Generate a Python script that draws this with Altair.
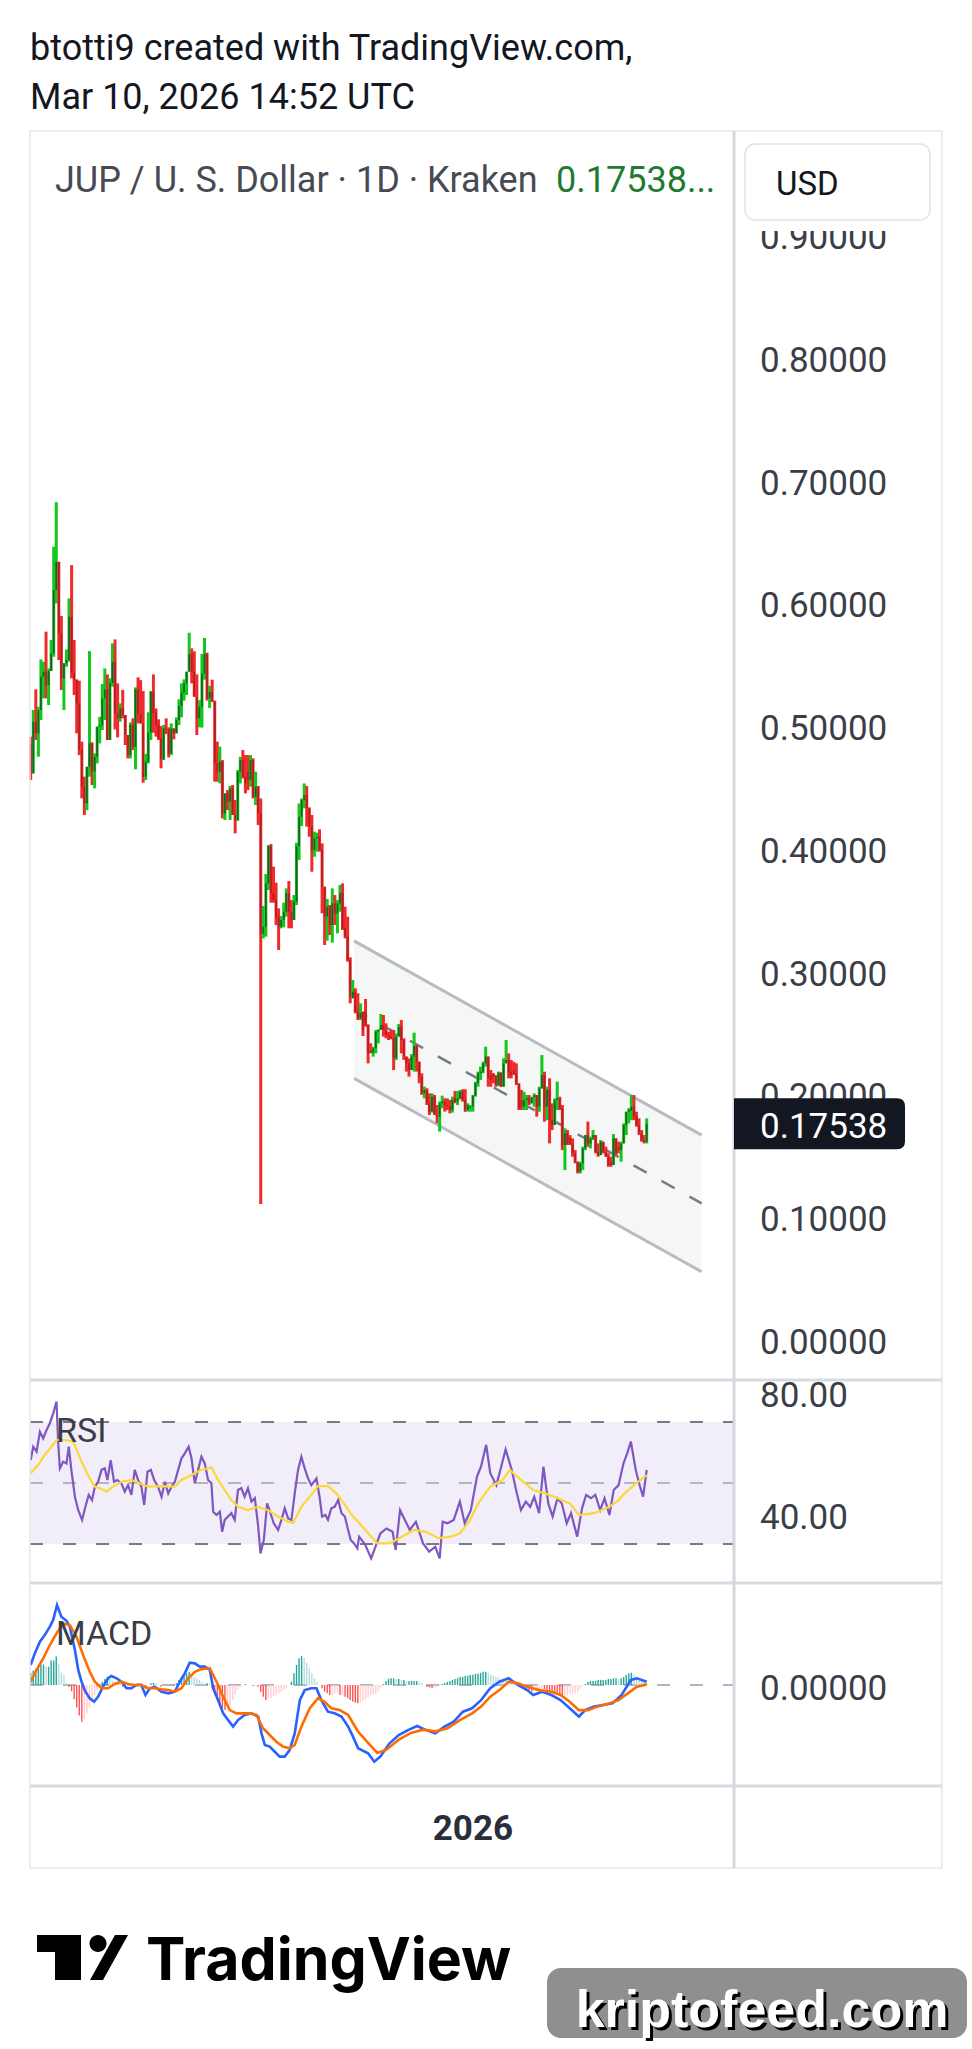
import altair as alt
import pandas as pd

W, H = 972, 2049

# ---------------- data ----------------
opens = [.4851,.4607,.5028,.4933,.5123,.5394,.5435,.5326,.5440,.5584,
         .6100,.6330,.5747,.5381,.5503,.5530,.5883,.5427,.5367,.5177,
         .4797,.4498,.4363,.4661,.4851,.4621,.4743,.4987,.5000,.5218,
         .5291,.4879,.5345,.5516,.5096,.5055,.5136,.5082,.4919,.4756,
         .5001,.4824,.5291,.5090,.5014,.4580,.4702,.4938,.5272,.5100,
         .5001,.4892,.4721,.4973,.4965,.4770,.4973,.4933,.5041,.5155,
         .5264,.5340,.5435,.5579,.5435,.5231,.5055,.5150,.5420,.5580,
         .5220,.5270,.5190,.4688,.4620,.4702,.4281,.4444,.4376,.4485,
         .4268,.4227,.4620,.4715,.4580,.4620,.4553,.4715,.4417,.4498,
         .4281,.3300,.3358,.3711,.4015,.3630,.3575,.3440,.3358,.3413,
         .3480,.3630,.3480,.3413,.3562,.4015,.4254,.4390,.4430,.4322,
         .4173,.3983,.4078,.4091,.3983,.3684,.3440,.3521,.3372,.3548,
         .3467,.3548,.3630,.3345,.3277,.3087,.2775,.2829,.2666,.2612,
         .2666,.2666,.2558,.2345,.2332,.2368,.2503,.2517,.2558,.2517,
         .2476,.2462,.2449,.2286,.2463,.2544,.2435,.2300,.2245,.2191,
         .2300,.2387,.2259,.2137,.2001,.2028,.1920,.1852,.1974,.1825,
         .1811,.1920,.1933,.1906,.1898,.1865,.1960,.1933,.1960,.2015,
         .1947,.1865,.1880,.1893,.1982,.2083,.2164,.2178,.2245,.2300,
         .2150,.2164,.2137,.2069,.2170,.2055,.2245,.2272,.2177,.2190,
         .2163,.2082,.1946,.1892,.1946,.1960,.1919,.1968,.1987,.1892,
         .2041,.2150,.1892,.2028,.1783,.1743,.1946,.1960,.1878,.1580,
         .1675,.1640,.1593,.1512,.1444,.1363,.1431,.1553,.1661,.1593,
         .1634,.1661,.1526,.1498,.1607,.1526,.1485,.1440,.1417,.1634,
         .1560,.1539,.1593,.1743,.1851,.1860,.1892,.1811,.1743,.1675,
         .1621,.1607]
closes = [.4607,.5028,.4933,.5123,.5394,.5435,.5326,.5440,.5584,.6100,
          .6330,.5747,.5381,.5503,.5530,.5883,.5427,.5367,.5177,.4797,
          .4498,.4363,.4661,.4851,.4621,.4743,.4987,.5000,.5218,.5291,
          .4879,.5345,.5516,.5096,.5055,.5136,.5082,.4919,.4756,.5001,
          .4824,.5291,.5090,.5014,.4580,.4702,.4938,.5272,.5100,.5001,
          .4892,.4721,.4973,.4965,.4770,.4973,.4933,.5041,.5155,.5264,
          .5340,.5435,.5579,.5435,.5231,.5055,.5150,.5420,.5580,.5220,
          .5270,.5190,.4690,.4620,.4702,.4281,.4444,.4376,.4485,.4268,
          .4227,.4620,.4715,.4580,.4525,.4553,.4715,.4417,.4498,.4281,
          .3300,.3358,.3711,.4015,.3630,.3575,.3440,.3358,.3413,.3480,
          .3630,.3480,.3413,.3562,.4015,.4254,.4390,.4430,.4322,.4173,
          .3983,.4078,.4091,.3983,.3684,.3440,.3521,.3372,.3548,.3467,
          .3548,.3630,.3345,.3277,.3087,.2788,.2829,.2666,.2612,.2653,
          .2517,.2558,.2327,.2332,.2368,.2503,.2517,.2558,.2517,.2476,
          .2462,.2449,.2286,.2463,.2544,.2435,.2300,.2245,.2191,.2300,
          .2387,.2259,.2137,.2001,.2028,.1920,.1852,.1974,.1825,.1811,
          .1920,.1933,.1906,.1898,.1865,.1947,.1933,.1960,.2015,.1947,
          .1865,.1906,.1893,.1982,.2083,.2164,.2178,.2245,.2300,.2123,
          .2110,.2137,.2069,.2170,.2055,.2245,.2272,.2177,.2150,.2163,
          .2082,.1878,.1892,.1946,.1960,.1919,.1968,.1987,.1892,.2041,
          .2150,.1892,.2028,.1783,.1743,.1946,.1960,.1878,.1580,.1675,
          .1593,.1593,.1512,.1444,.1363,.1431,.1553,.1661,.1593,.1634,
          .1661,.1526,.1498,.1607,.1526,.1485,.1417,.1417,.1634,.1512,
          .1539,.1593,.1743,.1851,.1870,.1892,.1811,.1743,.1675,.1621,
          .1607,.17538]
highs = [.4906,.5123,.5291,.5150,.5535,.5516,.5761,.5462,.5693,.6453,
         .6816,.6276,.5888,.5503,.5617,.6032,.6303,.5693,.5373,.5362,
         .4865,.4580,.4661,.5603,.4860,.4770,.4987,.5068,.5334,.5462,
         .5413,.5381,.5666,.5698,.5340,.5177,.5286,.5082,.4919,.5022,
         .5055,.5307,.5389,.5367,.5278,.4765,.5104,.5278,.5413,.5136,
         .5047,.4992,.5001,.5055,.4982,.5014,.4965,.5063,.5210,.5340,
         .5373,.5435,.5752,.5625,.5601,.5413,.5204,.5580,.5710,.5590,
         .5320,.5370,.5200,.4865,.4824,.4715,.4444,.4471,.4504,.4512,
         .4390,.4634,.4742,.4797,.4756,.4756,.4756,.4729,.4620,.4504,
         .4403,.3527,.3787,.4023,.4031,.3847,.3717,.3508,.3445,.3554,
         .3670,.3730,.3575,.3616,.4042,.4362,.4403,.4525,.4504,.4330,
         .4268,.4132,.4124,.4151,.4037,.3684,.3584,.3535,.3670,.3616,
         .3575,.3698,.3711,.3521,.3440,.3109,.2924,.2856,.2816,.2734,
         .2666,.2769,.2563,.2408,.2381,.2517,.2522,.2647,.2639,.2571,
         .2503,.2517,.2517,.2490,.2566,.2598,.2449,.2300,.2286,.2321,
         .2495,.2395,.2259,.2164,.2055,.2042,.2001,.2001,.1988,.1906,
         .1935,.1982,.1960,.1960,.1947,.1974,.2020,.2020,.2028,.2034,
         .2034,.1920,.1906,.1988,.2096,.2178,.2218,.2259,.2381,.2300,
         .2191,.2164,.2150,.2178,.2170,.2286,.2435,.2326,.2272,.2258,
         .2245,.2082,.2028,.2014,.1987,.1987,.1973,.2001,.1987,.2055,
         .2313,.2177,.2055,.2123,.1919,.1960,.2096,.1973,.1906,.1716,
         .1702,.1661,.1634,.1539,.1444,.1444,.1566,.1661,.1770,.1648,
         .1702,.1661,.1593,.1621,.1607,.1566,.1512,.1485,.1669,.1634,
         .1607,.1607,.1756,.1851,.1880,.1987,.1987,.1851,.1797,.1702,
         .1661,.1797]
lows = [.4553,.4716,.4879,.4743,.5041,.5218,.5218,.5163,.5476,.5557,
        .5991,.5530,.5286,.5123,.5476,.5516,.5381,.5245,.4933,.4756,
        .4404,.4268,.4308,.4580,.4512,.4485,.4688,.4851,.4960,.5041,
        .4879,.4879,.5313,.4965,.4900,.5028,.5055,.4838,.4729,.4729,
        .4797,.4640,.5014,.5014,.4531,.4553,.4688,.4879,.4938,.4906,
        .4879,.4648,.4716,.4927,.4737,.4756,.4884,.4933,.5001,.5063,
        .5199,.5245,.5435,.5340,.5231,.4919,.4982,.4980,.5370,.5200,
        .5140,.5190,.4540,.4539,.4525,.4240,.4227,.4308,.4227,.4268,
        .4118,.4220,.4525,.4566,.4444,.4471,.4498,.4403,.4349,.4186,
        .1100,.3263,.3277,.3657,.3554,.3554,.3372,.3168,.3345,.3353,
        .3440,.3345,.3345,.3413,.3535,.3901,.4178,.4322,.4173,.4091,
        .3806,.3928,.3969,.3969,.3467,.3209,.3244,.3290,.3228,.3372,
        .3304,.3480,.3331,.3263,.3073,.2734,.2775,.2653,.2598,.2598,
        .2468,.2544,.2245,.2327,.2300,.2327,.2408,.2517,.2463,.2449,
        .2435,.2441,.2191,.2273,.2463,.2327,.2273,.2178,.2137,.2191,
        .2178,.2178,.2083,.1988,.1960,.1906,.1825,.1844,.1825,.1757,
        .1689,.1879,.1852,.1865,.1838,.1844,.1920,.1906,.1950,.1933,
        .1850,.1852,.1852,.1852,.1974,.2055,.2110,.2164,.2218,.2055,
        .2055,.2083,.2055,.2060,.2055,.2055,.2245,.2123,.2123,.2150,
        .2069,.1865,.1865,.1865,.1865,.1906,.1919,.1892,.1811,.1851,
        .2041,.1770,.1783,.1593,.1702,.1743,.1865,.1865,.1539,.1376,
        .1580,.1580,.1485,.1431,.1349,.1349,.1376,.1539,.1566,.1553,
        .1621,.1512,.1485,.1498,.1512,.1485,.1403,.1403,.1417,.1498,
        .1512,.1444,.1593,.1661,.1756,.1783,.1783,.1729,.1661,.1607,
        .1593,.1593]
first_date = "2025-07-12"   # one daily candle per day up to 2026-03-10

# RSI(14) line and its moving average: (day index, value)
rsi_day = [0.0,1.0,2.3,3.6,4.9,6.2,7.5,8.8,10.1,10.7,11.4,12.7,14.0,14.9,15.9,17.3,18.6,20.1,21.4,22.7,
           24.0,25.1,26.4,27.7,29.0,30.0,31.3,32.6,33.9,35.5,36.8,38.1,39.4,40.7,42.0,43.3,44.4,45.7,47.0,48.3,
           49.8,51.2,52.5,53.8,55.1,56.4,57.7,59.0,60.3,61.8,62.9,64.2,65.5,66.8,68.1,69.4,70.7,71.4,72.7,74.0,
           74.9,75.9,77.2,78.5,79.8,81.1,82.4,83.7,85.0,86.4,87.7,89.0,89.9,91.2,92.5,93.8,95.1,96.8,98.1,99.4,
           100.7,102.0,103.3,104.6,105.9,107.2,108.5,109.8,111.8,113.1,114.0,115.3,116.3,117.6,118.9,120.3,121.6,122.9,124.2,125.2,
           126.5,127.8,128.5,130.9,133.2,134.4,136.8,139.2,141.6,142.8,144.5,146.4,148.3,150.7,153.5,155.9,158.3,160.0,161.2,163.1,
           165.5,167.9,169.8,172.2,174.6,176.2,178.2,179.8,182.2,184.1,185.8,188.2,189.9,191.8,193.7,195.4,197.0,198.9,200.6,202.5,
           204.2,206.1,207.8,209.7,211.4,213.8,215.7,217.3,219.2,220.9,222.8,224.5,226.4,228.1,230.0,231.9,233.6,234.8,236.7,238.4,
           239.6,241.0]
rsi_val = [57.5,61.9,60.3,66.8,64.6,67.4,69.6,72.8,76.7,64.1,54.8,57.0,56.4,61.9,54.3,45.5,41.1,37.9,42.2,46.1,
           44.4,48.8,50.4,54.3,54.8,51.0,57.5,50.4,51.0,49.9,47.2,49.3,46.1,54.3,51.0,48.8,42.8,53.7,54.3,51.0,
           48.8,45.5,50.4,46.6,48.8,50.4,54.3,58.1,59.7,61.9,58.1,49.9,54.3,58.6,56.4,51.0,49.9,40.6,39.5,40.6,
           34.0,37.9,39.0,40.1,37.9,47.7,48.3,45.5,48.3,43.9,45.0,35.7,26.9,31.3,43.3,40.1,36.8,34.6,37.9,41.7,
           38.4,37.9,46.6,54.3,58.6,54.8,51.5,49.3,51.5,45.0,39.0,39.5,37.9,41.7,42.2,44.4,40.1,39.0,34.6,31.3,
           30.2,28.6,32.4,29.7,25.3,28.0,33.5,35.1,34.0,28.0,41.1,37.9,34.6,37.3,30.2,27.5,29.1,25.3,37.3,36.8,
           37.9,43.9,36.8,41.1,52.1,55.4,62.5,53.2,49.3,55.4,61.0,54.3,47.7,41.1,43.9,42.2,45.5,40.1,55.4,43.3,
           39.0,45.0,43.3,36.8,40.1,32.4,41.7,46.1,45.0,46.1,41.1,45.0,39.5,47.7,49.3,56.4,60.3,63.6,54.3,48.8,
           45.5,54.3]
rsima_day = [0,2.9,5.5,8.1,10.1,13.3,16.6,19.9,23.1,25.1,27.0,29.6,32.2,35.5,39.4,43.3,45.9,51.2,56.4,59.0,
             62.9,66.8,70.7,73.3,75.9,78.5,81.1,85.0,89.0,92.9,96.8,100.7,102.7,105.9,109.8,112.4,116.3,119.6,122.9,126.1,
             128.1,130.9,135.6,140.4,145.2,150.0,154.7,159.5,164.3,167.9,171.5,175.1,179.8,184.6,187.5,191.8,196.6,201.3,206.1,210.9,
             214.5,220.4,226.4,230.0,232.4,236.0,241.0]
rsima_val = [53.2,55.9,59.2,61.9,64.1,64.1,63.6,57.0,51.5,48.8,48.3,47.2,48.8,50.4,51.0,49.7,48.8,49.0,48.8,51.0,
             52.6,54.3,55.1,51.0,47.7,44.4,42.2,41.1,42.2,41.1,39.0,37.3,37.0,42.2,46.1,49.0,49.0,46.6,42.8,39.0,
             37.3,34.6,30.2,30.2,32.4,34.6,34.0,31.9,32.4,33.5,37.3,43.3,48.8,51.0,54.3,51.0,47.7,46.6,45.0,43.3,
             39.5,40.1,42.2,44.4,46.6,49.3,52.6]

# MACD (12,26,9) in thousandths of a dollar: line, signal, histogram
macd_day = [0,1.6,3.6,5.5,7.5,8.8,10.3,12.0,14.0,15.3,17.3,18.6,19.9,21.4,23.1,24.8,26.4,28.3,30.3,31.6,
            33.6,35.5,37.5,39.4,41.4,43.3,44.9,46.6,48.5,51.2,53.8,56.4,58.3,60.3,62.2,64.2,66.1,68.1,70.1,71.4,
            73.3,75.3,77.2,79.2,81.1,83.7,86.4,89.0,90.3,91.6,93.5,95.5,97.4,99.4,101.3,103.3,105.3,107.2,109.8,111.8,
            113.7,116.3,118.9,121.6,124.2,126.1,128.1,132.0,134.4,136.8,140.4,144.0,147.6,151.2,154.7,158.3,161.9,165.5,169.1,172.7,
            176.2,179.8,183.4,187.0,190.6,194.2,196.6,200.1,203.7,207.3,210.9,214.5,216.9,220.4,224.0,227.6,231.2,234.8,237.2,241.0]
macd_val = [9.8,15.5,21.2,24.5,28.6,31.9,39.2,33.5,31.5,28.6,17.2,7.4,1.6,-3.3,-6.5,-8.2,-5.7,-0.8,3.3,4.4,
            3.3,1.6,-1.6,-1.6,0,0,-4.9,-1.6,-0.8,-3.3,-4.1,-3.3,1.6,5.7,10.9,10.6,9.0,9.0,7.4,-1.6,
            -7.4,-13.9,-17.2,-20.4,-17.2,-14.7,-13.9,-15.5,-23.7,-29.4,-30.2,-32.7,-35.1,-35.1,-31.9,-23.7,-7.4,-2.5,-1.6,-1.6,
            -7.4,-13.1,-13.9,-15.5,-20.4,-25.3,-31.0,-33.5,-37.6,-35.1,-28.6,-24.5,-22.1,-20.1,-22.1,-23.7,-20.4,-18.0,-13.1,-11.4,
            -7.4,-1.6,1.6,3.3,0,-2.5,-4.9,-3.3,-4.9,-7.4,-11.4,-15.5,-12.3,-10.6,-9.8,-9.0,-4.9,2.5,3.3,1.6]
sig_day = [0,2.3,4.9,7.5,10.1,12.7,15.3,17.9,20.5,23.1,25.1,27.7,30.3,32.9,35.5,38.1,40.7,43.3,45.9,48.5,
           51.2,53.8,56.4,59.0,61.6,64.2,66.8,70.1,72.7,75.3,77.9,80.5,83.1,85.7,88.3,90.9,93.5,96.1,98.7,101.3,
           103.3,105.9,109.2,112.4,115.0,117.6,120.9,124.2,128.1,132.0,135.6,139.2,144.0,148.8,153.5,158.3,163.1,167.9,172.7,176.2,
           179.8,183.4,187.0,190.6,194.2,198.9,203.7,207.3,210.9,214.5,218.1,221.6,226.4,230.0,233.6,237.2,241.0]
sig_val = [1.6,7.4,13.1,19.6,25.3,30.2,29.4,23.7,14.7,6.5,1.6,-1.6,-1.6,0.5,1.6,0.5,0,0,-1.6,-1.6,
           -2.1,-2.5,-3.3,-1.6,3.3,6.5,7.8,8.2,1.6,-5.7,-12.3,-13.9,-13.9,-13.9,-14.7,-21.2,-24.5,-27.8,-30.2,-31.0,
           -29.4,-20.4,-11.4,-6.5,-8.2,-11.4,-12.3,-14.7,-22.9,-28.4,-33.3,-31.7,-26.8,-23.5,-21.9,-22.7,-21.2,-17.2,-13.9,-10.6,
           -5.7,-2.5,1.6,0.8,-0.8,-2.5,-3.3,-4.9,-8.2,-12.3,-12.3,-10.6,-9.0,-7.4,-4.1,-0.8,0.3]
hist_val = [6,7,8,9,10,10,9,9,12,12,
            14,10,6,5,1,-1,-3,-7,-11,-15,
            -18,-17,-14,-11,-7,-5,-2.5,-1,1.6,3,
            4,3,2,1.6,1,0.5,-0.8,-1.6,-1.6,-0.8,
            0,0.5,0.8,0.8,0,-2,0,0.8,1,0.8,
            0,-0.8,-0.5,0,0,0.3,-0.5,0.8,2.5,4,
            5,5.7,6.5,5.7,4,3.3,2.5,1.6,0.8,0.8,
            0.5,-1.6,-5,-7.4,-9.8,-11.4,-12.3,-11.4,-9.8,-7.4,
            -4.9,-2.5,-0.8,0,0.5,0,0,-0.5,-0.5,-0.8,
            -3.3,-5.7,-7.4,-6.5,-6.5,-5.7,-4.9,-4.1,-3.3,-2.5,
            -1.6,0,1.6,5.7,9.8,13.1,14.2,13.1,10.9,8.2,
            5.7,3.3,1.6,0,-1.6,-3.3,-4.1,-4.9,-4.9,-4.1,
            -4.1,-4.9,-4.9,-5.7,-6.5,-7.4,-8.2,-8.7,-9.0,-8.5,
            -8,-7,-6,-5,-4.5,-4,-3,-1.5,0.5,2,
            3,3.3,3.3,3,3,2.5,2.5,2,2,2,
            2,2,1.5,1,0,-0.8,-1.2,-1.5,-1.5,-1,
            -0.5,0.5,1,1.5,2,2.5,3,3.3,4,4,
            4.5,4.5,5,5,5.5,5.5,6,6.5,6.5,6,
            5,4.5,4,3.5,3,2.5,2,1.5,1,0.5,
            0,-0.5,-1,-1.5,-2,-2.5,-3.3,-3.3,-2.5,-2,
            -1.5,-2,-2.5,-3,-3.5,-4,-4.5,-4.9,-5,-5,
            -5,-4.5,-4,-4,-3.3,-2,-0.5,0.5,1.5,2,
            2,2,2.5,2.5,2.5,2.5,3,3,3.3,3.3,
            3,3.3,4,4.9,5.7,6,5,4,3,2.5,
            1.5,1]

# descending channel drawing (day index, prices)
chan_day = [126.5, 262.5]
chan_upper = [0.3243, 0.1661]
chan_lower = [0.2123, 0.0548]
chan_mid = [0.2683, 0.1105]

price_ticks = [0.0, 0.1, 0.2, 0.3, 0.4, 0.5, 0.6, 0.7, 0.8, 0.9]
rsi_ticks = [80, 40]
macd_ticks = [0]
rsi_bands = [70, 30]
rsi_mid = [50]
year_day = [173]
year_text = ["2026"]

# ---------------- scales ----------------
def lin_domain(v1, y1, v2, y2):
    s = (y1 - y2) / (v2 - v1)
    return [v1 - (H - y1) / s, v1 + y1 / s]

PX_DAY, X0 = 2.556, 30.7
xs = alt.Scale(domain=[-X0 / PX_DAY, (W - X0) / PX_DAY], nice=False, zero=False)
ps = alt.Scale(domain=lin_domain(0.0, 1339, 0.9, 234), nice=False, zero=False)
rs = alt.Scale(domain=lin_domain(70, 1422, 30, 1544), nice=False, zero=False)
ms = alt.Scale(domain=lin_domain(0, 1685, 10, 1664.6), nice=False, zero=False)

def X(f="day"):
    return alt.X(f + ":Q", scale=xs, axis=None)

def Y(f, sc):
    return alt.Y(f + ":Q", scale=sc, axis=None)

n = len(closes)
cdf = pd.DataFrame({"day": list(range(n)),
                    "date": pd.date_range(first_date, periods=n, freq="D").strftime("%Y-%m-%d"),
                    "o": opens, "h": highs, "l": lows, "c": closes})
cdf["h"] = cdf[["h", "o", "c"]].max(axis=1)
cdf["l"] = cdf[["l", "o", "c"]].min(axis=1)
cdf["dir"] = ["up" if c >= o else "down" for o, c in zip(cdf["o"], cdf["c"])]

hdf = pd.DataFrame({"day": list(range(n)), "hist": hist_val})
prev = [0] + hist_val[:-1]
hdf["hc"] = [("pu" if h >= p else "pd") if h >= 0 else ("nd" if h < p else "nu")
             for h, p in zip(hist_val, prev)]

rsi_df = pd.DataFrame({"day": rsi_day, "v": rsi_val})
rsima_df = pd.DataFrame({"day": rsima_day, "v": rsima_val})
macd_df = pd.DataFrame({"day": macd_day, "v": macd_val})
sig_df = pd.DataFrame({"day": sig_day, "v": sig_val})
ch_df = pd.DataFrame({"day": chan_day, "up": chan_upper, "lo": chan_lower, "mid": chan_mid})
one = pd.DataFrame({"a": [0]})

G_B, G_D, R_B, R_D = "#12c81e", "#1d5e25", "#f02a2a", "#b01f22"
FONT = "Roboto"

layers = []

# channel
layers.append(alt.Chart(ch_df).mark_area(color="#f4f7f6", opacity=1).encode(x=X(), y=Y("up", ps), y2="lo:Q"))
for f in ["up", "lo"]:
    layers.append(alt.Chart(ch_df).mark_line(color="#b8bbc4", strokeWidth=3).encode(x=X(), y=Y(f, ps)))
layers.append(alt.Chart(ch_df).mark_line(color="#787b86", strokeWidth=2.5, strokeDash=[15, 17])
              .encode(x=X(), y=Y("mid", ps)))

# RSI pane background and levels
layers.append(alt.Chart(pd.DataFrame({"t": [70], "b": [30]})).mark_rect(color="#f1edf9")
              .encode(x=alt.value(30), x2=alt.value(734), y=Y("t", rs), y2="b:Q"))
layers.append(alt.Chart(pd.DataFrame({"v": rsi_bands})).mark_rule(color="#787b86", strokeWidth=2, strokeDash=[13, 20])
              .encode(x=alt.value(30), x2=alt.value(734), y=Y("v", rs)))
layers.append(alt.Chart(pd.DataFrame({"v": rsi_mid})).mark_rule(color="#b2b5be", strokeWidth=2, strokeDash=[13, 20])
              .encode(x=alt.value(30), x2=alt.value(734), y=Y("v", rs)))
layers.append(alt.Chart(pd.DataFrame({"v": macd_ticks})).mark_rule(color="#b2b5be", strokeWidth=2, strokeDash=[13, 20])
              .encode(x=alt.value(30), x2=alt.value(734), y=Y("v", ms)))

# MACD histogram
layers.append(alt.Chart(hdf).mark_rule(strokeWidth=1.4).encode(
    x=X(), y=Y("hist", ms), y2=alt.datum(0),
    color=alt.Color("hc:N", scale=alt.Scale(domain=["pu", "pd", "nu", "nd"],
                                            range=["#26a69a", "#b2dfdb", "#ffcdd2", "#ff5252"]), legend=None)))

# candles
layers.append(alt.Chart(cdf).mark_rule(strokeWidth=3, strokeCap="butt").encode(
    x=X(), y=Y("l", ps), y2="h:Q",
    color=alt.Color("dir:N", scale=alt.Scale(domain=["up", "down"], range=[G_B, R_B]), legend=None)))
layers.append(alt.Chart(cdf).mark_rule(strokeWidth=1.7, strokeCap="butt").encode(
    x=X(), y=Y("o", ps), y2="c:Q",
    color=alt.Color("dir:N", scale=alt.Scale(domain=["up", "down"], range=[G_D, R_D]), legend=None)))

# indicator lines
layers.append(alt.Chart(rsi_df).mark_line(color="#7e57c2", strokeWidth=2.2).encode(x=X(), y=Y("v", rs)))
layers.append(alt.Chart(rsima_df).mark_line(color="#fdd835", strokeWidth=2.2).encode(x=X(), y=Y("v", rs)))
layers.append(alt.Chart(macd_df).mark_line(color="#2962ff", strokeWidth=2.6).encode(x=X(), y=Y("v", ms)))
layers.append(alt.Chart(sig_df).mark_line(color="#ff6d00", strokeWidth=2.6).encode(x=X(), y=Y("v", ms)))

# axis labels
AX = dict(align="left", baseline="middle", fontSize=35, font=FONT, color="#3b3e47", dy=4)
layers.append(alt.Chart(pd.DataFrame({"v": price_ticks})).mark_text(**AX)
              .encode(x=alt.value(760), y=Y("v", ps), text=alt.Text("v:Q", format=".5f")))
layers.append(alt.Chart(pd.DataFrame({"v": rsi_ticks})).mark_text(**AX)
              .encode(x=alt.value(760), y=Y("v", rs), text=alt.Text("v:Q", format=".2f")))
layers.append(alt.Chart(pd.DataFrame({"v": macd_ticks})).mark_text(**AX)
              .encode(x=alt.value(760), y=Y("v", ms), text=alt.Text("v:Q", format=".5f")))
layers.append(alt.Chart(pd.DataFrame({"day": year_day, "t": year_text}))
              .mark_text(align="center", baseline="alphabetic", fontSize=35, fontWeight="bold", font=FONT, color="#2a2e39")
              .encode(x=X(), y=alt.value(1840), text="t:N"))

# frame and separators
def deco_rule(x1, x2, y1, y2, color, w):
    return alt.Chart(one).mark_rule(color=color, strokeWidth=w).encode(
        x=alt.value(x1), x2=alt.value(x2), y=alt.value(y1), y2=alt.value(y2))

layers.append(alt.Chart(one).mark_rect(fillOpacity=0, stroke="#e6e8ed", strokeWidth=1.5).encode(
    x=alt.value(30), x2=alt.value(942), y=alt.value(131), y2=alt.value(1868)))
for yy in [1380, 1583, 1786]:
    layers.append(deco_rule(30, 942, yy, yy, "#d8dbe2", 3))
layers.append(deco_rule(734, 734, 131, 1868, "#d4d7de", 3))

# cover above the price scale + USD button
layers.append(alt.Chart(one).mark_rect(color="white").encode(
    x=alt.value(736), x2=alt.value(941), y=alt.value(132), y2=alt.value(231)))
layers.append(alt.Chart(one).mark_rect(fill="white", stroke="#e0e3eb", strokeWidth=1.5, cornerRadius=10).encode(
    x=alt.value(745), x2=alt.value(930), y=alt.value(144), y2=alt.value(220)))
layers.append(alt.Chart(one).mark_text(align="left", baseline="middle", fontSize=33, font=FONT, color="#131722", dy=2)
              .encode(x=alt.value(776), y=alt.value(183), text=alt.value("USD")))

# last price tag
last_df = pd.DataFrame({"v": [closes[-1]]})
tag_path = "M-1,-0.2982L0.9064,-0.2982Q1,-0.2982 1,-0.2046L1,0.2046Q1,0.2982 0.9064,0.2982L-1,0.2982Z"
layers.append(alt.Chart(last_df).mark_point(shape=tag_path, size=171 * 171, filled=True, opacity=1,
                                            fill="#131722", strokeWidth=0)
              .encode(x=alt.value(819.5), y=Y("v", ps)))
layers.append(alt.Chart(last_df).mark_text(align="left", baseline="middle", fontSize=35, font=FONT, color="white", dy=3)
              .encode(x=alt.value(760), y=Y("v", ps), text=alt.Text("v:Q", format=".5f")))

# legends / titles
def txt(s, x, y, size, color="#131722", weight="normal", font=FONT, align="left"):
    return alt.Chart(one).mark_text(align=align, baseline="alphabetic", fontSize=size, fontWeight=weight,
                                    font=font, color=color).encode(x=alt.value(x), y=alt.value(y), text=alt.value(s))

layers.append(txt("JUP / U. S. Dollar · 1D · Kraken", 55, 192, 36, "#474a53"))
layers.append(txt("0.17538...", 556, 192, 36, "#1f7a32"))
layers.append(txt("RSI", 56, 1442, 34, "#3a3d45"))
layers.append(txt("MACD", 56, 1645, 34, "#3a3d45"))
layers.append(txt("btotti9 created with TradingView.com,", 30, 60, 36, "#131722"))
layers.append(txt("Mar 10, 2026 14:52 UTC", 30, 109, 36, "#131722"))

# TradingView logo
logo_path = ("M-1,-0.495L-0.033,-0.495L-0.033,0.495L-0.604,0.495L-0.604,-0.121L-1,-0.121Z"
             "M0.154,-0.308A0.187,0.187 0 1 0 0.528,-0.308A0.187,0.187 0 1 0 0.154,-0.308Z"
             "M0.714,-0.495L1,-0.495L0.451,0.495L0.165,0.495Z")
layers.append(alt.Chart(one).mark_point(shape=logo_path, size=91 * 91, filled=True, opacity=1,
                                        fill="#000000", strokeWidth=0)
              .encode(x=alt.value(82.5), y=alt.value(1957.5)))
layers.append(txt("TradingView", 146, 1980, 59, "#000000", "bold", "Inter"))

# kriptofeed badge
layers.append(alt.Chart(one).mark_rect(color="#8f8f8f", cornerRadius=14).encode(
    x=alt.value(547), x2=alt.value(967), y=alt.value(1968), y2=alt.value(2038)))
layers.append(txt("kriptofeed.com", 765, 2030, 52, "#000000", "bold", "Liberation Sans", "center"))
layers.append(txt("kriptofeed.com", 762, 2027, 52, "#ffffff", "bold", "Liberation Sans", "center"))

chart = (alt.layer(*layers)
         .resolve_scale(y="independent", color="independent")
         .properties(width=W, height=H, padding=0, autosize="none", background="white")
         .configure_view(stroke=None))

chart.save("out.html", embed_options={"renderer": "svg", "actions": False})
